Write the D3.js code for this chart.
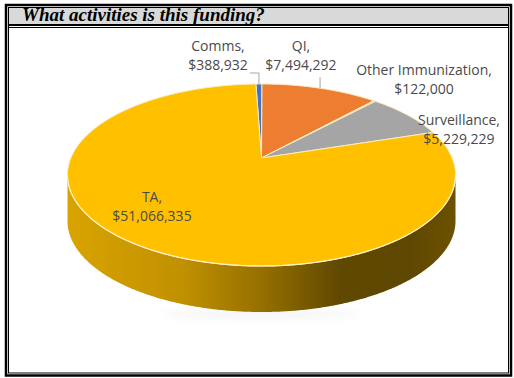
<!DOCTYPE html>
<html>
<head>
<meta charset="utf-8">
<script src="https://cdn.jsdelivr.net/npm/d3@7"></script>
<style>
body { margin: 0; background: #fff; }
svg { display: block; }
</style>
</head>
<body>
<div id="chart"></div>
<script>
const title = "What activities is this funding?"
const categories = ["Comms", "QI", "Other Immunization", "Surveillance", "TA"]
const amounts = [388932, 7494292, 122000, 5229229, 51066335]
const colors = ["#4472c4", "#ed7d31", "#d9d9d9", "#a5a5a5", "#ffc000"]

// label centres (first line baseline) and whether a leader line is drawn
const labelX = [218, 301, 424, 459, 152]
const labelY = [51, 51, 75, 125, 202]
const leaderFrom = [[250, 73], [null, 77], null, null, null]

const width = 514
const height = 378

// 3d pie geometry (perspective tilt moves the centre up)
const cx = 261.5, cy = 175, rx = 194, ry = 91, tilt = 0.187, depth = 46

function project(angle, r = 1) {
    const a = r * Math.sin(angle)
    const b = r * Math.cos(angle)
    const k = 1 + tilt * b
    return [cx + rx * a * Math.sqrt(1 - tilt * tilt) / k, cy - ry * (b + tilt) / k]
}

function arcPoints(a0, a1, dy = 0) {
    const n = Math.max(2, Math.ceil(Math.abs(a1 - a0) / (Math.PI / 360)))
    return d3.range(n + 1).map(i => {
        const p = project(a0 + (a1 - a0) * i / n)
        return [p[0], p[1] + dy]
    })
}

const fmt = d3.format("$,")

const svg = d3.select("#chart").append("svg")
    .attr("width", width)
    .attr("height", height)

const defs = svg.append("defs")
defs.append("filter").attr("id", "blur")
    .attr("x", "-50%").attr("y", "-200%").attr("width", "200%").attr("height", "500%")
    .append("feGaussianBlur").attr("stdDeviation", 5)

// frame
svg.append("rect")
    .attr("x", 9).attr("y", 8).attr("width", 499).attr("height", 16)
    .attr("fill", "#d9d9d9")
svg.append("rect")
    .attr("x", 6).attr("y", 5).attr("width", 505).attr("height", 370.5)
    .attr("fill", "none").attr("stroke", "#000").attr("stroke-width", 2.5)
svg.append("rect")
    .attr("x", 8.5).attr("y", 7.5).attr("width", 500).attr("height", 365.5)
    .attr("fill", "none").attr("stroke", "#000").attr("stroke-width", 1)
svg.append("line")
    .attr("x1", 8).attr("x2", 509).attr("y1", 25).attr("y2", 25)
    .attr("stroke", "#000").attr("stroke-width", 2)
svg.append("line")
    .attr("x1", 8).attr("x2", 509).attr("y1", 27.5).attr("y2", 27.5)
    .attr("stroke", "#000").attr("stroke-width", 1)

svg.append("text")
    .attr("x", 22).attr("y", 21)
    .attr("font-family", "'Liberation Serif', 'Times New Roman', serif")
    .attr("font-weight", "bold")
    .attr("font-style", "italic")
    .attr("font-size", 19)
    .attr("fill", "#000")
    .text(title)

const pie = d3.pie().sort(null)
    .startAngle(-2 * Math.PI / 180)
    .endAngle(358 * Math.PI / 180)
const arcs = pie(amounts)

// soft shadow under the pie
svg.append("ellipse")
    .attr("cx", cx).attr("cy", cy + ry + depth + 2)
    .attr("rx", 100).attr("ry", 4)
    .attr("fill", "#000").attr("opacity", 0.05)
    .attr("filter", "url(#blur)")

// visible wall runs between the two silhouette points
const wallStart = Math.acos(-tilt)
const wallEnd = 2 * Math.PI - wallStart
const line = d3.line()

arcs.forEach((d, i) => {
    const lo = Math.max(d.startAngle, wallStart), hi = Math.min(d.endAngle, wallEnd)
    if (hi <= lo) return
    const col = d3.color(colors[i])
    const gid = "wall" + i
    const g = defs.append("linearGradient").attr("id", gid)
        .attr("gradientUnits", "userSpaceOnUse")
        .attr("x1", cx - rx).attr("x2", cx + rx).attr("y1", 0).attr("y2", 0)
    const stops = [[0, 0.45], [0.3, 0.8], [0.5, 1.5], [0.7, 2.75], [0.88, 2.8], [1, 2.4]]
    stops.forEach(s => g.append("stop")
        .attr("offset", s[0])
        .attr("stop-color", col.darker(s[1]).formatHex()))
    const top = arcPoints(lo, hi)
    const bottom = arcPoints(hi, lo, depth)
    svg.append("path")
        .attr("d", line(top.concat(bottom)) + "Z")
        .attr("fill", "url(#" + gid + ")")
})

// top face
arcs.forEach((d, i) => {
    const pts = [project(0, 0)].concat(arcPoints(d.startAngle, d.endAngle))
    svg.append("path")
        .attr("d", line(pts) + "Z")
        .attr("fill", colors[i])
        .attr("stroke", "#fcebc0")
        .attr("stroke-width", 1)
        .attr("stroke-linejoin", "round")
})

// rim highlight along the front edge
svg.append("path")
    .attr("d", line(arcPoints(wallStart, wallEnd)))
    .attr("fill", "none")
    .attr("stroke", "#fff1c4")
    .attr("stroke-width", 1.2)

// leader lines
arcs.forEach((d, i) => {
    const lf = leaderFrom[i]
    if (!lf) return
    const mid = (d.startAngle + d.endAngle) / 2
    const rim = project(mid)
    const pts = []
    if (lf[0] !== null) pts.push(lf)
    pts.push([rim[0], lf[1]], rim)
    svg.append("path")
        .attr("d", line(pts))
        .attr("fill", "none")
        .attr("stroke", "#a6a6a6")
        .attr("stroke-width", 1)
})

// labels
categories.forEach((c, i) => {
    const t = svg.append("text")
        .attr("text-anchor", "middle")
        .attr("font-family", "'Open Sans', 'Noto Sans', sans-serif")
        .attr("font-size", 14)
        .attr("fill", "#4a4a4a")
    t.append("tspan").attr("x", labelX[i]).attr("y", labelY[i]).text(c + ",")
    t.append("tspan").attr("x", labelX[i]).attr("y", labelY[i] + 19).text(fmt(amounts[i]))
})
</script>
</body>
</html>
